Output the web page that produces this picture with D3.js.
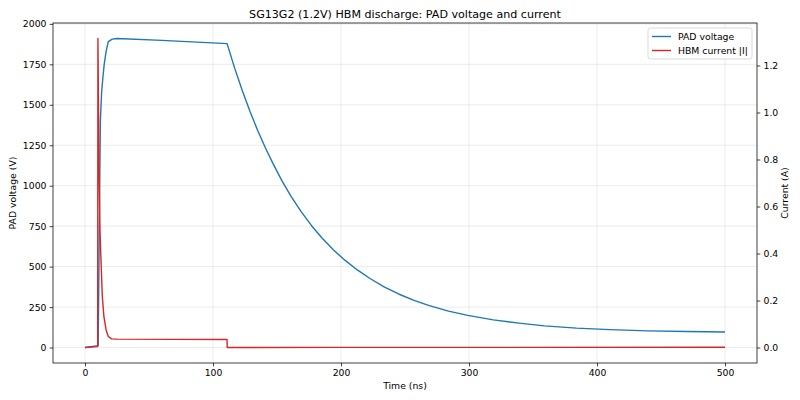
<!DOCTYPE html>
<html>
<head>
<meta charset="utf-8">
<script src="https://cdn.jsdelivr.net/npm/d3@7"></script>
<style>
  body { margin: 0; background: #fff; }
  text { font-family: "DejaVu Sans", sans-serif; fill: #000; }
</style>
</head>
<body>
<script>
// PAD voltage (V) vs time (ns)
const timeV = [0, 10.3, 11, 12, 13, 14, 15, 16.5, 18.2, 21.3, 25, 60, 111,
  117, 123, 129, 135, 141, 147, 154, 161, 169, 177, 185, 194, 203, 213, 223,
  234, 245, 257, 269, 284, 299, 319, 339, 359, 384, 410, 440, 470, 500];
const voltage = [0, 12, 600, 1400, 1580, 1670, 1750, 1830, 1890, 1906, 1910, 1898, 1878,
  1725, 1585, 1457, 1340, 1233, 1135, 1028, 934, 838, 753, 678, 604, 540, 478, 425,
  374, 331, 292, 259, 225, 199, 171, 151, 134, 120, 111, 103, 99, 96];

// HBM current |I| (A) vs time (ns)
const timeI = [0, 9.9, 10.1, 11, 11.7, 12.3, 13.5, 14.8, 16.5, 18.2, 20.8, 25, 111,
  111.1, 200, 500];
const current = [0, 0.004, 1.315, 0.75, 0.5, 0.4, 0.22, 0.13, 0.075, 0.047, 0.037, 0.036, 0.034,
  0.0, 0.0008, 0.001];

const xTicks = [0, 100, 200, 300, 400, 500];
const yLeftTicks = [0, 250, 500, 750, 1000, 1250, 1500, 1750, 2000];
const yRightTicks = [0.0, 0.2, 0.4, 0.6, 0.8, 1.0, 1.2];

const W = 800, H = 400;
const box = {left: 53, right: 757, top: 23, bottom: 363};
const blue = "#1f77b4", red = "#d62728";
const fs = 9.3;

const svg = d3.select("body").append("svg")
  .attr("width", W).attr("height", H);

// matplotlib-like 5% margins
function padded(vals) {
  const [lo, hi] = d3.extent(vals);
  const p = (hi - lo) * 0.05;
  return [lo - p, hi + p];
}

const x = d3.scaleLinear().domain(padded(timeV)).range([box.left, box.right]);
const yL = d3.scaleLinear().domain(padded(voltage)).range([box.bottom, box.top]);
const yR = d3.scaleLinear().domain(padded(current)).range([box.bottom, box.top]);

// grid
const grid = svg.append("g");
grid.selectAll(".gx").data(xTicks).join("line")
  .attr("x1", d => x(d)).attr("x2", d => x(d))
  .attr("y1", box.top).attr("y2", box.bottom)
  .attr("stroke", "#b0b0b0").attr("stroke-opacity", 0.3).attr("stroke-width", 0.8);
grid.selectAll(".gy").data(yLeftTicks).join("line")
  .attr("x1", box.left).attr("x2", box.right)
  .attr("y1", d => yL(d)).attr("y2", d => yL(d))
  .attr("stroke", "#b0b0b0").attr("stroke-opacity", 0.3).attr("stroke-width", 0.8);

// lines
svg.append("clipPath").attr("id", "clip").append("rect")
  .attr("x", box.left).attr("y", box.top)
  .attr("width", box.right - box.left).attr("height", box.bottom - box.top);

const lineV = d3.line().x((d, i) => x(timeV[i])).y(d => yL(d));
const lineI = d3.line().x((d, i) => x(timeI[i])).y(d => yR(d));

svg.append("path").datum(voltage)
  .attr("d", lineV).attr("fill", "none")
  .attr("stroke", blue).attr("stroke-width", 1.4)
  .attr("stroke-linejoin", "round")
  .attr("clip-path", "url(#clip)");
svg.append("path").datum(current)
  .attr("d", lineI).attr("fill", "none")
  .attr("stroke", red).attr("stroke-width", 1.4)
  .attr("stroke-linejoin", "round")
  .attr("clip-path", "url(#clip)");

// axes
function style(g) {
  g.selectAll("text").style("font-size", fs + "px").style("font-family", "DejaVu Sans");
  g.selectAll("line").attr("stroke", "#000").attr("stroke-width", 0.75);
  g.select(".domain").remove();
}

svg.append("g").attr("transform", `translate(0,${box.bottom})`)
  .call(d3.axisBottom(x).tickValues(xTicks).tickSize(3.3).tickPadding(3.2).tickFormat(d3.format("d")))
  .call(style);
svg.append("g").attr("transform", `translate(${box.left},0)`)
  .call(d3.axisLeft(yL).tickValues(yLeftTicks).tickSize(3.3).tickPadding(3.2).tickFormat(d3.format("d")))
  .call(style);
svg.append("g").attr("transform", `translate(${box.right},0)`)
  .call(d3.axisRight(yR).tickValues(yRightTicks).tickSize(3.3).tickPadding(3.2).tickFormat(d3.format(".1f")))
  .call(style);

// frame
svg.append("rect")
  .attr("x", box.left).attr("y", box.top)
  .attr("width", box.right - box.left).attr("height", box.bottom - box.top)
  .attr("fill", "none").attr("stroke", "#000").attr("stroke-width", 0.75);

// labels
svg.append("text").attr("x", (box.left + box.right) / 2).attr("y", 18)
  .attr("text-anchor", "middle").style("font-size", "11.1px")
  .text("SG13G2 (1.2V) HBM discharge: PAD voltage and current");
svg.append("text").attr("x", (box.left + box.right) / 2).attr("y", 389)
  .attr("text-anchor", "middle").style("font-size", fs + "px")
  .text("Time (ns)");
svg.append("text")
  .attr("transform", `translate(16,${(box.top + box.bottom) / 2}) rotate(-90)`)
  .attr("text-anchor", "middle").style("font-size", fs + "px")
  .text("PAD voltage (V)");
svg.append("text")
  .attr("transform", `translate(788,${(box.top + box.bottom) / 2}) rotate(-90)`)
  .attr("text-anchor", "middle").style("font-size", fs + "px")
  .text("Current (A)");

// legend
const legendItems = [
  {label: "PAD voltage", color: blue},
  {label: "HBM current |I|", color: red}
];
const lg = svg.append("g").attr("transform", "translate(648,28)");
lg.append("rect").attr("width", 104).attr("height", 31).attr("rx", 2.5)
  .attr("fill", "#fff").attr("fill-opacity", 0.8)
  .attr("stroke", "#d0d0d0").attr("stroke-width", 0.8);
legendItems.forEach((it, i) => {
  const yy = 8.5 + i * 14;
  lg.append("line").attr("x1", 4).attr("x2", 23).attr("y1", yy).attr("y2", yy)
    .attr("stroke", it.color).attr("stroke-width", 1.4);
  lg.append("text").attr("x", 30).attr("y", yy + 3.4)
    .style("font-size", fs + "px").text(it.label);
});
</script>
</body>
</html>
